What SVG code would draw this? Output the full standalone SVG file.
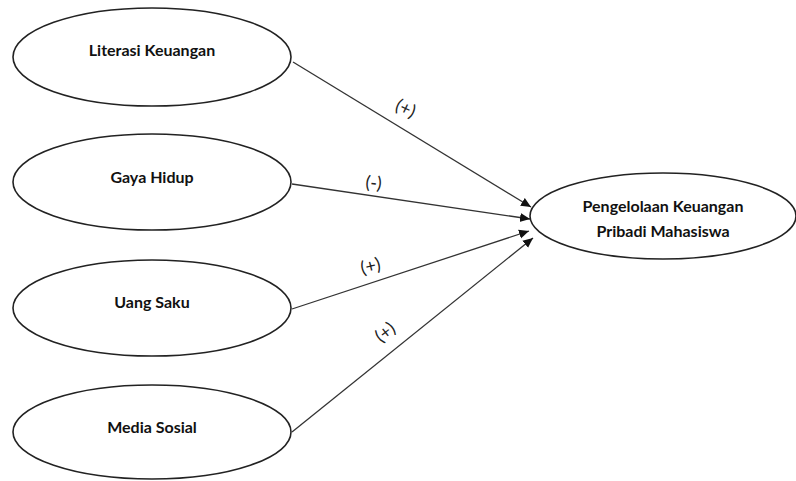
<svg xmlns="http://www.w3.org/2000/svg" width="796" height="481" viewBox="0 0 796 481">
<style>
.node ellipse{fill:#fff;stroke:#222;stroke-width:1.6}
.node text{font-family:Lato,"Open Sans","Liberation Sans",sans-serif;font-weight:bold;font-size:16px;fill:#111;text-anchor:middle}
.edge line{stroke:#333;stroke-width:1.3;marker-end:url(#arr)}
.lbl{font-family:Lato,"Liberation Sans",sans-serif;font-size:18px;fill:#222;text-anchor:middle}
</style>
<defs>
<marker id="arr" viewBox="0 0 10 10" refX="10" refY="5" markerWidth="10" markerHeight="10" markerUnits="userSpaceOnUse" orient="auto">
<path d="M0,0.5 L10,5 L0,9.5 z" fill="#111"/>
</marker>
</defs>
<rect width="796" height="481" fill="#fff"/>
<g id="connectors" class="edge">
<line x1="293" y1="62" x2="531" y2="207"/>
<line x1="292" y1="184" x2="530" y2="219"/>
<line x1="292" y1="309" x2="529" y2="231"/>
<line x1="292" y1="432" x2="533" y2="238"/>
</g>
<g id="labels">
<text class="lbl" transform="translate(403,114) rotate(25)">(+)</text>
<text class="lbl" transform="translate(373,189) rotate(6)">(-)</text>
<text class="lbl" transform="translate(372,272) rotate(-14)">(+)</text>
<text class="lbl" transform="translate(389,337) rotate(-38)">(+)</text>
</g>
<g id="literasi" class="node">
<ellipse cx="152" cy="57" rx="139" ry="49"/>
<text x="152" y="56">Literasi Keuangan</text>
</g>
<g id="gaya" class="node">
<ellipse cx="152" cy="182" rx="139" ry="48"/>
<text x="152" y="183">Gaya Hidup</text>
</g>
<g id="uang" class="node">
<ellipse cx="152" cy="308" rx="139" ry="48"/>
<text x="152" y="308">Uang Saku</text>
</g>
<g id="media" class="node">
<ellipse cx="152" cy="432" rx="139" ry="47"/>
<text x="152" y="433">Media Sosial</text>
</g>
<g id="pengelolaan" class="node">
<ellipse cx="663" cy="216" rx="133" ry="43"/>
<text x="663" y="212">Pengelolaan Keuangan</text>
<text x="663" y="237">Pribadi Mahasiswa</text>
</g>
</svg>
